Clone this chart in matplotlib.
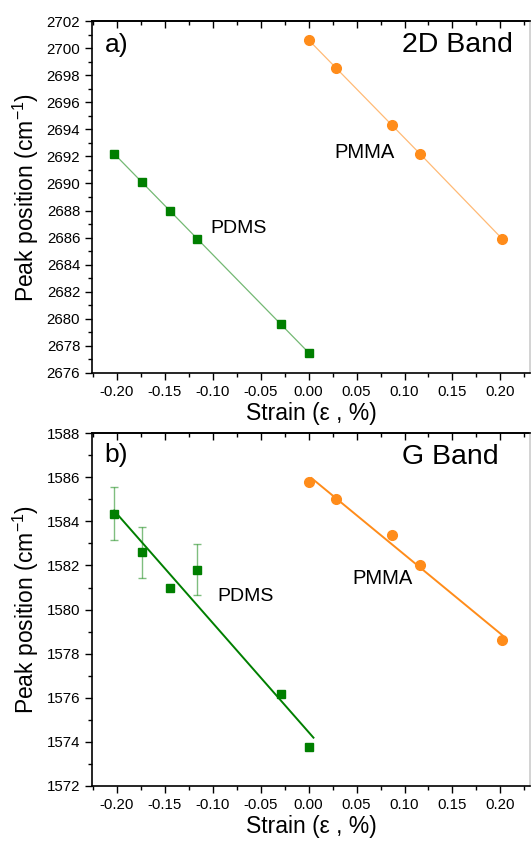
import numpy as np
import matplotlib
matplotlib.use("Agg")
import matplotlib.pyplot as plt
from matplotlib.ticker import MultipleLocator, FormatStrFormatter

plt.rcParams['font.family'] = ['Liberation Sans', 'DejaVu Sans']
plt.rcParams['mathtext.fontset'] = 'custom'
plt.rcParams['mathtext.rm'] = 'Liberation Sans'
plt.rcParams['mathtext.it'] = 'Liberation Sans'

# Data
pdms_strain = [-0.203, -0.174, -0.145, -0.116, -0.029, 0.0]
pmma_strain = [0.0, 0.029, 0.087, 0.116, 0.202]

pdms_2d = [2692.2, 2690.1, 2688.0, 2685.9, 2679.6, 2677.5]
pmma_2d = [2700.6, 2698.5, 2694.3, 2692.2, 2685.9]

pdms_g = [1584.35, 1582.6, 1581.0, 1581.8, 1576.15, 1573.75]
pdms_g_err = [1.2, 1.15, 0.0, 1.15, 0.0, 0.0]
pmma_g = [1585.8, 1585.0, 1583.4, 1582.0, 1578.6]

green = "#007f00"
orange = "#ff8c1a"

fig = plt.figure(figsize=(5.31, 8.41), dpi=100)
ax1 = fig.add_axes([0.1733, 0.5565, 0.825, 0.4185])
ax2 = fig.add_axes([0.1733, 0.0654, 0.825, 0.4196])


def style(ax, ylim, ymaj):
    ax.set_xlim(-0.226, 0.231)
    ax.set_ylim(*ylim)
    ax.xaxis.set_major_locator(MultipleLocator(0.05))
    ax.xaxis.set_minor_locator(MultipleLocator(0.025))
    ax.yaxis.set_major_locator(MultipleLocator(ymaj))
    ax.yaxis.set_minor_locator(MultipleLocator(ymaj / 2))
    ax.tick_params(which='both', direction='out', labelsize=10.8, width=1)
    ax.tick_params(which='major', length=5)
    ax.tick_params(which='minor', length=3)
    ax.xaxis.set_major_formatter(FormatStrFormatter('%.2f'))
    for s in ax.spines.values():
        s.set_linewidth(1.2)
    ax.spines['right'].set_color('#cccccc')
    ax.set_xlabel("Strain (ε , %)", fontsize=16.5, labelpad=2)
    ax.set_ylabel("Peak position (cm$^{-1}$)", fontsize=16.5, labelpad=4)
    # top ticks point inward
    top = ax.secondary_xaxis('top')
    top.xaxis.set_major_locator(MultipleLocator(0.05))
    top.xaxis.set_minor_locator(MultipleLocator(0.025))
    top.tick_params(which='both', direction='in', labeltop=False, width=1)
    top.tick_params(which='major', length=5)
    top.tick_params(which='minor', length=3)
    top.spines['top'].set_linewidth(1.2)


# Panel a
ax1.plot(pdms_strain, pdms_2d, '-', color=green, lw=0.9, alpha=0.55)
ax1.plot(pdms_strain, pdms_2d, 's', color=green, ms=6)
ax1.plot(pmma_strain, pmma_2d, '-', color=orange, lw=0.9, alpha=0.6)
ax1.plot(pmma_strain, pmma_2d, 'o', color=orange, ms=7)
style(ax1, (2676, 2702), 2)
ax1.text(-0.213, 2700.2, "a)", fontsize=19, va='center')
ax1.text(0.213, 2700.2, "2D Band", fontsize=20.5, va='center', ha='right')
ax1.text(-0.073, 2686.7, "PDMS", fontsize=14, ha='center', va='center')
ax1.text(0.058, 2692.3, "PMMA", fontsize=14.5, ha='center', va='center')

# Panel b
c1 = np.polyfit(pdms_strain, pdms_g, 1)
fx1 = np.array([pdms_strain[0], 0.005])
c2 = np.polyfit(pmma_strain, pmma_g, 1)
fx2 = np.array([0.003, pmma_strain[-1]])
ax2.errorbar(pdms_strain, pdms_g, yerr=pdms_g_err, fmt='none', ecolor=green,
             alpha=0.5, capsize=3, elinewidth=1)
ax2.plot(fx1, np.polyval(c1, fx1), '-', color=green, lw=1.4)
ax2.plot(pdms_strain, pdms_g, 's', color=green, ms=6)
ax2.plot(fx2, np.polyval(c2, fx2), '-', color=orange, lw=1.4)
ax2.plot(pmma_strain, pmma_g, 'o', color=orange, ms=7)
style(ax2, (1572, 1588), 2)
ax2.text(-0.213, 1587.0, "b)", fontsize=19, va='center')
ax2.text(0.198, 1586.9, "G Band", fontsize=20.5, va='center', ha='right')
ax2.text(-0.066, 1580.6, "PDMS", fontsize=14, ha='center', va='center')
ax2.text(0.077, 1581.4, "PMMA", fontsize=14.5, ha='center', va='center')

fig.savefig("out.png", dpi=100)
